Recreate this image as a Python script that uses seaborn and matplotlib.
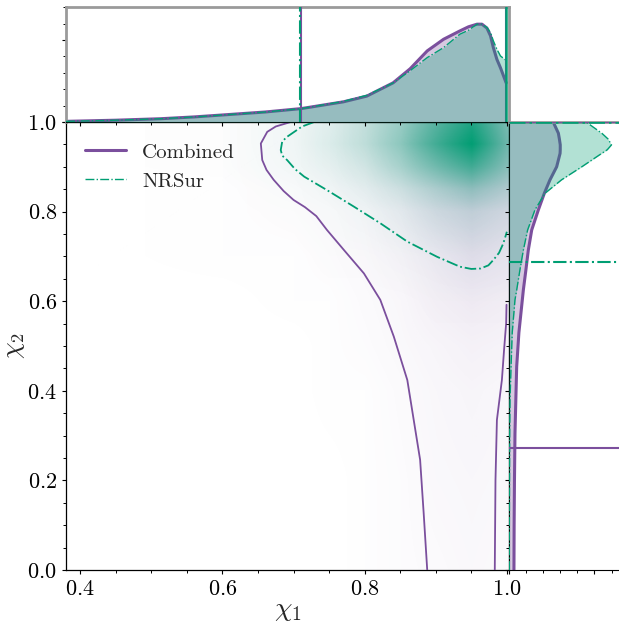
import numpy as np
import matplotlib
matplotlib.use("Agg")
import matplotlib.pyplot as plt
import seaborn as sns
from matplotlib.colors import LinearSegmentedColormap, Normalize, to_rgb
from matplotlib.image import NonUniformImage
from matplotlib.lines import Line2D
from matplotlib.ticker import MultipleLocator, NullFormatter

PURPLE = "#7B4F9D"
GREEN = "#009E73"
FRAME = "#9a9a9a"

# chi_1 marginal (density)
chi1_pts = [0.38, 0.45, 0.513, 0.56, 0.607, 0.66, 0.711, 0.77, 0.803, 0.84, 0.864,
            0.888, 0.911, 0.934, 0.946, 0.958, 0.965, 0.972, 0.977, 0.981, 0.986,
            0.991, 0.999]
chi1_combined = [0.04, 0.11, 0.20, 0.31, 0.45, 0.61, 0.82, 1.23, 1.58, 2.39, 3.25,
                 4.34, 5.05, 5.56, 5.81, 5.97, 5.97, 5.73, 5.26, 4.54, 3.82,
                 3.31, 2.39]
chi1_nrsur = [0.04, 0.11, 0.20, 0.31, 0.45, 0.61, 0.82, 1.26, 1.63, 2.39, 3.13,
              3.93, 4.54, 5.36, 5.60, 5.97, 5.97, 5.77, 5.46, 4.95, 4.44,
              4.03, 3.76]

# chi_2 marginal (density)
chi2_pts = [0.0, 0.1, 0.2, 0.305, 0.38, 0.454, 0.53, 0.603, 0.625, 0.67, 0.714,
            0.759, 0.804, 0.841, 0.871, 0.9, 0.93, 0.938, 0.949, 0.962, 0.975, 0.999]
chi2_combined = [0.29, 0.30, 0.32, 0.35, 0.40, 0.45, 0.58, 0.78, 0.84, 0.99, 1.13,
                 1.33, 1.72, 2.07, 2.40, 2.79, 2.99, 3.0, 3.0, 2.95, 2.89, 2.6]
chi2_nrsur = [0.02, 0.02, 0.03, 0.04, 0.06, 0.12, 0.19, 0.35, 0.45, 0.64, 0.84,
              1.09, 1.52, 2.11, 3.08, 4.26, 5.43, 5.75, 6.0, 5.8, 5.43, 4.55]

# 90% credible bounds
chi1_low_combined, chi1_low_nrsur = 0.711, 0.709
chi1_high = 0.999
chi2_low_combined, chi2_low_nrsur = 0.273, 0.688
chi2_high = 0.999

# 90% contours
comb_left_chi1 = [0.696, 0.675, 0.663, 0.654, 0.656, 0.662, 0.672, 0.686, 0.700, 0.716,
                  0.732, 0.747, 0.771, 0.799, 0.822, 0.841, 0.860, 0.869, 0.878, 0.883,
                  0.888]
comb_left_chi2 = [1.0, 0.99, 0.978, 0.952, 0.915, 0.893, 0.871, 0.846, 0.826, 0.810,
                  0.790, 0.759, 0.714, 0.662, 0.603, 0.521, 0.424, 0.335, 0.246, 0.127,
                  0.0]
comb_right_chi1 = [0.9995, 0.999, 0.996, 0.993, 0.986, 0.984, 0.983]
comb_right_chi2 = [0.592, 0.551, 0.49, 0.424, 0.335, 0.201, 0.0]
nrsur_c_chi1 = [0.729, 0.712, 0.701, 0.690, 0.684, 0.682, 0.684, 0.691, 0.702, 0.715,
                0.747, 0.785, 0.822, 0.860, 0.902, 0.934, 0.950, 0.963, 0.974, 0.981,
                0.989, 0.995, 1.0]
nrsur_c_chi2 = [1.0, 0.99, 0.978, 0.966, 0.956, 0.9375, 0.925, 0.915, 0.895, 0.878,
                0.848, 0.811, 0.774, 0.733, 0.699, 0.677, 0.672, 0.673, 0.680, 0.692,
                0.708, 0.729, 0.755]

# coarse 2D densities (relative shading)
grid_chi1 = [0.38, 0.6, 0.7, 0.75, 0.8, 0.85, 0.9, 0.95, 1.0]
grid_chi2 = [0.0, 0.2, 0.4, 0.5, 0.6, 0.7, 0.8, 0.85, 0.9, 0.95, 1.0]
dens_combined = [
    [0.0, 0.0, 0.0, 0.0, 0.01, 0.02, 0.03, 0.04, 0.03],
    [0.0, 0.0, 0.0, 0.0, 0.01, 0.02, 0.04, 0.05, 0.04],
    [0.0, 0.0, 0.0, 0.01, 0.01, 0.03, 0.05, 0.06, 0.05],
    [0.0, 0.0, 0.0, 0.01, 0.02, 0.04, 0.06, 0.08, 0.07],
    [0.0, 0.0, 0.01, 0.01, 0.03, 0.05, 0.09, 0.12, 0.10],
    [0.0, 0.01, 0.01, 0.02, 0.04, 0.07, 0.13, 0.18, 0.15],
    [0.0, 0.01, 0.02, 0.03, 0.05, 0.10, 0.18, 0.24, 0.20],
    [0.0, 0.01, 0.02, 0.04, 0.07, 0.12, 0.20, 0.28, 0.24],
    [0.0, 0.01, 0.03, 0.05, 0.08, 0.14, 0.24, 0.32, 0.25],
    [0.0, 0.01, 0.03, 0.05, 0.09, 0.16, 0.28, 0.36, 0.28],
    [0.0, 0.01, 0.03, 0.05, 0.09, 0.15, 0.25, 0.32, 0.25],
]
dens_nrsur = [
    [0.0, 0.0, 0.0, 0.0, 0.0, 0.0, 0.0, 0.0, 0.0],
    [0.0, 0.0, 0.0, 0.0, 0.0, 0.0, 0.0, 0.0, 0.0],
    [0.0, 0.0, 0.0, 0.0, 0.0, 0.0, 0.0, 0.0, 0.0],
    [0.0, 0.0, 0.0, 0.0, 0.0, 0.0, 0.0, 0.0, 0.0],
    [0.0, 0.0, 0.0, 0.0, 0.0, 0.0, 0.01, 0.01, 0.01],
    [0.0, 0.0, 0.0, 0.01, 0.01, 0.02, 0.03, 0.04, 0.03],
    [0.0, 0.0, 0.01, 0.02, 0.04, 0.07, 0.12, 0.15, 0.10],
    [0.0, 0.0, 0.02, 0.04, 0.08, 0.15, 0.25, 0.35, 0.22],
    [0.0, 0.01, 0.04, 0.08, 0.15, 0.30, 0.50, 0.70, 0.40],
    [0.0, 0.01, 0.05, 0.12, 0.22, 0.40, 0.70, 1.00, 0.50],
    [0.0, 0.01, 0.05, 0.10, 0.20, 0.35, 0.60, 0.85, 0.45],
]

sns.set_style("ticks")
plt.rcParams["font.family"] = ["cmr10", "DejaVu Serif"]
plt.rcParams["mathtext.fontset"] = "cm"
plt.rcParams["axes.formatter.use_mathtext"] = True
plt.rcParams["axes.unicode_minus"] = False
for ax_name in ("xtick", "ytick"):
    plt.rcParams[f"{ax_name}.direction"] = "out"
    plt.rcParams[f"{ax_name}.major.size"] = 3
    plt.rcParams[f"{ax_name}.minor.size"] = 2
    plt.rcParams[f"{ax_name}.major.width"] = 0.8
    plt.rcParams[f"{ax_name}.minor.width"] = 0.7
    plt.rcParams[f"{ax_name}.color"] = "black"


def alpha_cmap(name, colour):
    r, g, b = to_rgb(colour)
    return LinearSegmentedColormap.from_list(name, [(r, g, b, 0.0), (r, g, b, 1.0)])


def add_density(ax, values, colour, name, z):
    im = NonUniformImage(ax, interpolation="bilinear", extent=(0.38, 1.003, 0, 1),
                         cmap=alpha_cmap(name, colour), norm=Normalize(0, 1))
    im.set_data(np.asarray(grid_chi1), np.asarray(grid_chi2), np.asarray(values))
    im.set_zorder(z)
    ax.add_image(im)


W, H = 619, 633


def frac(l, t, r, b):
    return [l / W, 1 - b / H, (r - l) / W, (b - t) / H]


fig = plt.figure(figsize=(W / 100, H / 100), dpi=100)
ax = fig.add_axes(frac(66, 122, 509, 570))
ax_top = fig.add_axes(frac(66, 7.3, 509, 122))
ax_right = fig.add_axes(frac(509, 122, 632, 570))

# main panel: shaded densities and 90% contours
add_density(ax, dens_combined, PURPLE, "comb", 1)
add_density(ax, dens_nrsur, GREEN, "nrsur", 1.5)
sns.lineplot(x=comb_left_chi1, y=comb_left_chi2, sort=False, estimator=None,
             color=PURPLE, lw=1.3, ax=ax, zorder=3)
sns.lineplot(x=comb_right_chi1, y=comb_right_chi2, sort=False, estimator=None,
             color=PURPLE, lw=1.3, ax=ax, zorder=3)
sns.lineplot(x=nrsur_c_chi1, y=nrsur_c_chi2, sort=False, estimator=None,
             color=GREEN, lw=1.3, linestyle="-.", ax=ax, zorder=3)

ax.set_xlim(0.38, 1.003)
ax.set_ylim(0, 1)
for axis in (ax.xaxis, ax.yaxis):
    axis.set_major_locator(MultipleLocator(0.2))
    axis.set_minor_locator(MultipleLocator(0.05))
ax.tick_params(labelsize=16)
ax.set_xlabel(r"$\chi_1$", fontsize=20, labelpad=-1)
ax.set_ylabel(r"$\chi_2$", fontsize=19)
ax.yaxis.set_label_coords(-0.088, 0.5)
for s in ax.spines.values():
    s.set_color("black")
    s.set_linewidth(0.9)

handles = [Line2D([], [], color=PURPLE, lw=2.2, label="Combined"),
           Line2D([], [], color=GREEN, lw=1.0, ls="-.", label="NRSur")]
ax.legend(handles=handles, loc="upper left", bbox_to_anchor=(0.0, 0.995),
          frameon=False, fontsize=15, handlelength=2.0, handletextpad=0.75,
          labelspacing=0.5)

# top marginal: chi_1
ax_top.fill_between(chi1_pts, chi1_combined, color=PURPLE, alpha=0.3, lw=0, zorder=1)
sns.lineplot(x=chi1_pts, y=chi1_combined, sort=False, estimator=None,
             color=PURPLE, lw=2.2, ax=ax_top, zorder=2)
ax_top.fill_between(chi1_pts, chi1_nrsur, color=GREEN, alpha=0.3, lw=0, zorder=3)
sns.lineplot(x=chi1_pts, y=chi1_nrsur, sort=False, estimator=None,
             color=GREEN, lw=1.0, linestyle="-.", ax=ax_top, zorder=4)
ax_top.axvline(chi1_low_combined, color=PURPLE, lw=1.5, zorder=5)
ax_top.axvline(chi1_low_nrsur, color=GREEN, lw=1.5, ls="-.", zorder=5)
ax_top.axvline(chi1_high, color=PURPLE, lw=1.5, zorder=5)
ax_top.axvline(chi1_high, color=GREEN, lw=1.8, zorder=5)
ax_top.set_xlim(ax.get_xlim())
ax_top.set_ylim(0, 7.0)
ax_top.xaxis.set_major_locator(MultipleLocator(0.2))
ax_top.xaxis.set_minor_locator(MultipleLocator(0.05))
ax_top.yaxis.set_major_locator(MultipleLocator(5))
ax_top.yaxis.set_minor_locator(MultipleLocator(1))
ax_top.xaxis.set_major_formatter(NullFormatter())
ax_top.yaxis.set_major_formatter(NullFormatter())
for side in ("top", "left", "right"):
    ax_top.spines[side].set_color(FRAME)
    ax_top.spines[side].set_linewidth(2)
ax_top.spines["bottom"].set_color("black")

# right marginal: chi_2
ax_right.fill_betweenx(chi2_pts, chi2_combined, color=PURPLE, alpha=0.3, lw=0, zorder=1)
sns.lineplot(x=chi2_combined, y=chi2_pts, orient="y", sort=False, estimator=None,
             color=PURPLE, lw=2.2, ax=ax_right, zorder=2)
ax_right.fill_betweenx(chi2_pts, chi2_nrsur, color=GREEN, alpha=0.3, lw=0, zorder=3)
sns.lineplot(x=chi2_nrsur, y=chi2_pts, orient="y", sort=False, estimator=None,
             color=GREEN, lw=1.0, linestyle="-.", ax=ax_right, zorder=4)
ax_right.axhline(chi2_low_combined, color=PURPLE, lw=1.5, zorder=5)
ax_right.axhline(chi2_low_nrsur, color=GREEN, lw=1.5, ls="-.", zorder=5)
ax_right.axhline(chi2_high, color=PURPLE, lw=1.5, zorder=5)
ax_right.axhline(chi2_high, color=GREEN, lw=1.8, ls="-.", zorder=5)
ax_right.set_ylim(ax.get_ylim())
ax_right.set_xlim(0, 7.2)
ax_right.yaxis.set_major_locator(MultipleLocator(0.2))
ax_right.yaxis.set_minor_locator(MultipleLocator(0.05))
ax_right.xaxis.set_major_locator(MultipleLocator(5))
ax_right.xaxis.set_minor_locator(MultipleLocator(1))
ax_right.xaxis.set_major_formatter(NullFormatter())
ax_right.yaxis.set_major_formatter(NullFormatter())
ax_right.spines["top"].set_color(FRAME)
ax_right.spines["top"].set_linewidth(2)
ax_right.spines["right"].set_visible(False)
for side in ("left", "bottom"):
    ax_right.spines[side].set_color("black")

fig.savefig("out.png", dpi=100)
